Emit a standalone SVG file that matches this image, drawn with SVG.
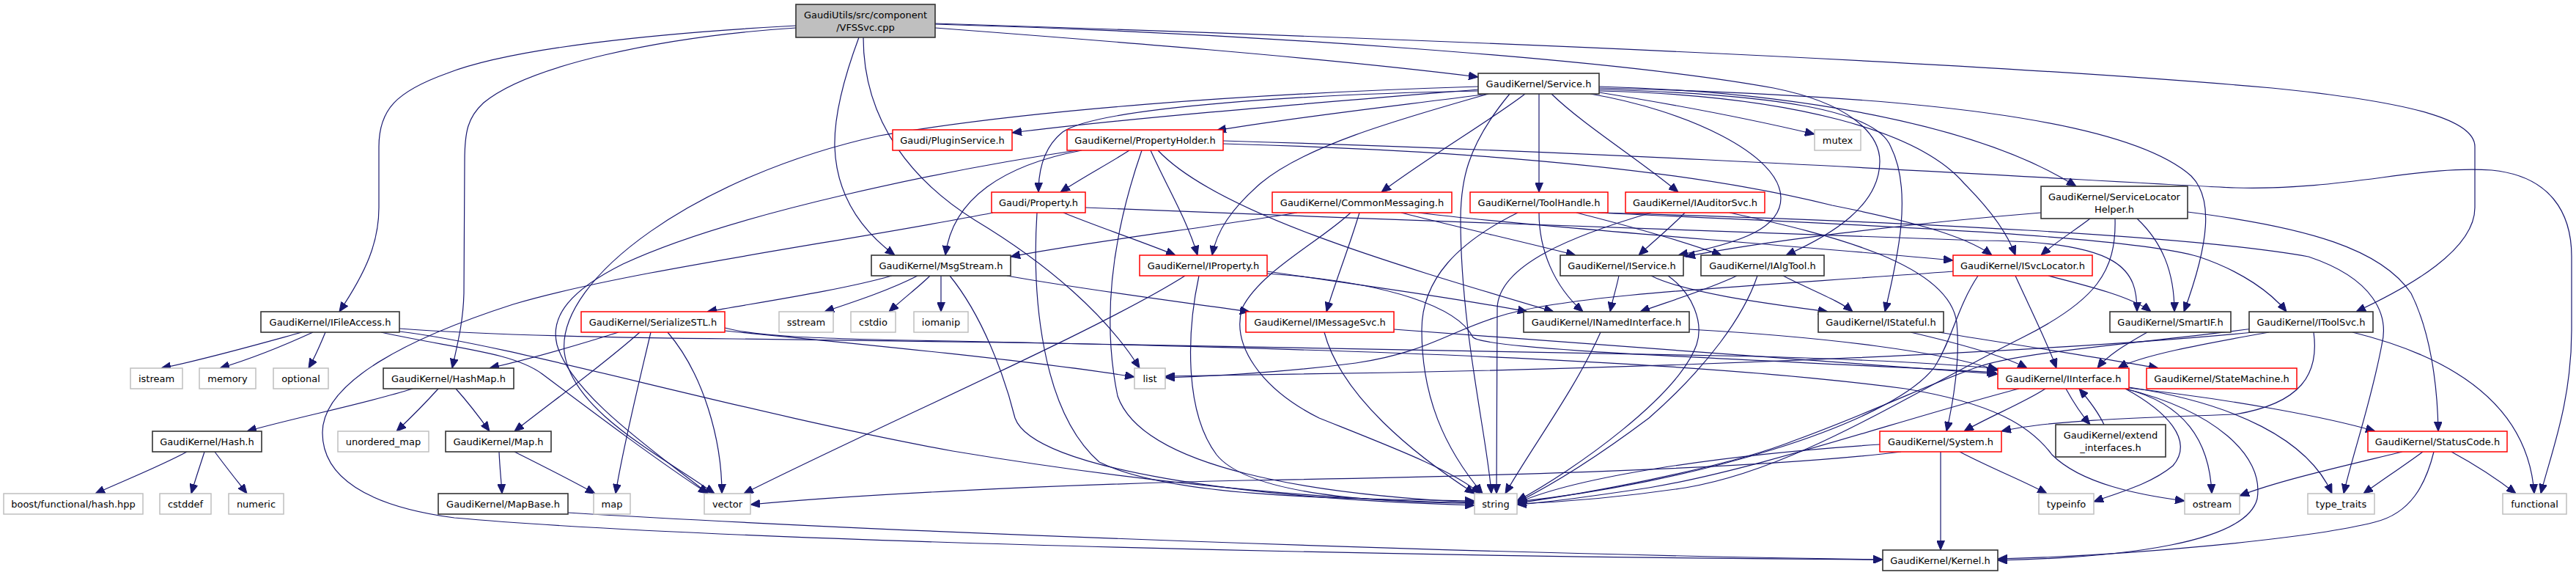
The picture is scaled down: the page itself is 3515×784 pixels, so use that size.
<svg xmlns="http://www.w3.org/2000/svg" width="3515" height="784" viewBox="0 0 3515 784">
<defs>
<style>
#edges path{fill:none;stroke:#191970;stroke-width:1.2;marker-end:url(#ah)}
.nb rect{fill:#fff;stroke:#333;stroke-width:1.6}
.nr rect{fill:#fff;stroke:#ff0000;stroke-width:1.5}
.ng rect{fill:#fff;stroke:#bfbfbf;stroke-width:1.5}
.root rect{fill:#bfbfbf;stroke:#333;stroke-width:1.6}
text{font-family:"DejaVu Sans","Liberation Sans",sans-serif;font-size:13px;text-anchor:middle;fill:#000}
</style>
<marker id="ah" viewBox="0 0 13 11" refX="13" refY="5.5" markerWidth="13" markerHeight="11" markerUnits="userSpaceOnUse" orient="auto"><path d="M0,0 L13,5.5 L0,11 z" fill="#191970" stroke="#191970" stroke-width="1"/></marker>
</defs>
<rect x="0" y="0" width="3515" height="784" fill="#fff"/>
<g id="edges">
<path d="M1086,35 C900,45 700,65 610,100 C540,125 517,150 517,200 L517,283 C517,330 500,370 463,425"/>
<path d="M1086,38 C900,50 720,90 660,140 C638,160 634,180 634,220 L633,400 C632,440 624,470 617,502"/>
<path d="M1172,51 C1150,110 1138,160 1139,200 C1141,260 1170,310 1221,348"/>
<path d="M1178,51 C1178,170 1250,250 1330,300 C1430,360 1510,430 1555,502"/>
<path d="M1276,38 C1500,55 1800,78 2017,105"/>
<path d="M1276,33 C1700,45 2200,80 2420,120 C2520,140 2565,180 2565,220 C2565,280 2500,320 2437,348"/>
<path d="M1276,32 C2000,55 2700,85 3100,120 C3300,140 3377,165 3377,200 L3377,283 C3377,340 3290,390 3215,425"/>
<path d="M2017,122 C1800,140 1550,160 1381,181"/>
<path d="M2031,128 C1900,145 1750,162 1660,178"/>
<path d="M2017,124 C1800,128 1500,145 1450,180 C1425,200 1417,230 1417,262"/>
<path d="M2031,128 C1900,165 1780,200 1720,250 C1680,285 1660,315 1654,348"/>
<path d="M2081,128 C2040,160 1940,220 1885,262"/>
<path d="M2100,128 L2100,262"/>
<path d="M2117,128 C2160,170 2240,220 2290,262"/>
<path d="M2182,126 C2300,145 2400,165 2476,183"/>
<path d="M2182,118 C2450,125 2700,170 2833,254"/>
<path d="M2170,128 C2300,150 2430,210 2430,270 C2430,310 2380,330 2290,348"/>
<path d="M2182,124 C2450,130 2620,180 2680,250 C2720,290 2740,320 2750,348"/>
<path d="M2182,120 C2600,130 2900,160 2990,240 C3020,270 3015,330 2980,425"/>
<path d="M2182,122 C2420,128 2560,150 2580,200 C2610,260 2590,350 2572,425"/>
<path d="M2060,128 C2000,200 1993,250 1993,300 C1993,450 2030,600 2035,673"/>
<path d="M2017,118 C1700,128 1400,150 1200,185 C950,240 760,380 770,480 C780,560 900,620 975,673"/>
<path d="M1476,205 C1370,225 1300,270 1290,348"/>
<path d="M1541,205 C1510,225 1480,240 1447,262"/>
<path d="M1570,205 C1590,250 1620,300 1634,348"/>
<path d="M1580,205 C1660,290 1900,360 2120,425"/>
<path d="M1558,205 C1525,300 1500,420 1525,540 C1560,640 1800,675 2012,685"/>
<path d="M1476,204 C1300,230 1000,290 850,360 C780,395 750,430 760,470 C780,540 900,620 966,673"/>
<path d="M1669,192 C2300,210 2900,250 3050,256 C3200,260 3300,225 3400,232 C3480,240 3509,290 3509,350 L3509,450 C3509,550 3480,620 3467,673"/>
<path d="M1669,196 C2000,205 2300,230 2500,280 C2600,300 2680,320 2718,348"/>
<path d="M1451,290 C1500,310 1560,330 1604,348"/>
<path d="M1415,290 C1408,400 1420,560 1500,630 C1600,680 1850,680 2012,683"/>
<path d="M1355,290 C1150,330 850,370 700,415 C560,460 440,520 440,590 C440,650 500,690 620,706 C1000,740 2000,760 2569,763"/>
<path d="M1481,283 C1900,300 2400,318 2700,328 C2900,328 2916,370 2916,425"/>
<path d="M1217,376 C1150,395 1050,410 965,425"/>
<path d="M1252,376 C1215,395 1170,410 1125,425"/>
<path d="M1269,376 C1255,390 1235,405 1213,425"/>
<path d="M1284,376 L1284,425"/>
<path d="M1296,376 C1340,430 1370,510 1385,570 C1410,640 1700,680 2012,689"/>
<path d="M1374,376 C1480,395 1600,410 1705,425"/>
<path d="M1729,370 C1850,388 1980,405 2084,425"/>
<path d="M1729,373 C1900,385 1990,420 2010,460 C2030,478 2400,490 2724,508"/>
<path d="M1636,376 C1620,450 1615,560 1660,620 C1700,670 1850,685 2012,686"/>
<path d="M1617,376 C1500,450 1200,580 1015,673"/>
<path d="M1770,290 C1650,310 1480,330 1379,350"/>
<path d="M1855,290 C1840,340 1820,390 1810,425"/>
<path d="M1912,290 C1990,310 2080,330 2150,348"/>
<path d="M1935,290 C2100,310 2450,335 2665,355"/>
<path d="M1843,290 C1800,330 1720,370 1695,420 C1680,470 1720,530 1800,570 C1900,610 1980,640 2020,673"/>
<path d="M2151,290 C2230,310 2300,330 2349,348"/>
<path d="M2100,290 C2100,340 2120,390 2160,425"/>
<path d="M2180,290 C2500,305 2900,320 3000,350 C3060,370 3100,400 3120,425"/>
<path d="M2071,290 C1990,330 1940,380 1940,450 C1940,540 1970,610 2023,673"/>
<path d="M2185,290 C2600,302 3000,322 3150,350 C3240,380 3260,430 3250,470 C3235,550 3210,620 3198,673"/>
<path d="M2299,290 C2280,310 2255,330 2236,348"/>
<path d="M2360,290 C2500,320 2660,360 2670,440 C2675,490 2665,550 2656,588"/>
<path d="M2253,290 C2150,320 2045,360 2043,420 L2042,673"/>
<path d="M2785,290 C2600,305 2400,330 2300,350"/>
<path d="M2852,298 C2830,315 2805,330 2785,348"/>
<path d="M2916,298 C2950,330 2967,370 2967,425"/>
<path d="M2985,289 C3150,310 3250,340 3290,400 C3315,450 3326,520 3327,588"/>
<path d="M2886,298 C2888,370 2860,410 2760,460 C2600,540 2450,640 2300,665 C2200,680 2120,685 2070,687"/>
<path d="M2209,376 C2205,395 2200,410 2197,425"/>
<path d="M2253,376 C2300,400 2420,415 2494,425"/>
<path d="M2276,376 C2310,400 2325,440 2315,470 C2290,540 2150,640 2070,683"/>
<path d="M2370,376 C2330,395 2280,410 2238,425"/>
<path d="M2433,376 C2470,395 2510,410 2528,425"/>
<path d="M2398,376 C2380,430 2330,500 2250,570 C2170,630 2110,665 2070,685"/>
<path d="M2750,376 C2770,420 2795,470 2806,502"/>
<path d="M2795,376 C2850,390 2910,405 2935,425"/>
<path d="M2699,376 C2670,420 2665,460 2640,500 C2580,580 2300,660 2070,684"/>
<path d="M2665,370 C2400,390 2150,400 2050,430 C1980,450 1950,480 1850,495 C1750,508 1650,513 1590,515"/>
<path d="M2930,453 C2900,470 2875,485 2862,502"/>
<path d="M3096,453 C3000,470 2920,485 2890,502"/>
<path d="M3157,453 C3165,510 3140,550 3050,565 C2900,570 2790,574 2731,588"/>
<path d="M3210,453 C3360,490 3450,560 3458,673"/>
<path d="M3075,453 C2800,480 2300,500 1900,508 C1750,511 1650,513 1590,513"/>
<path d="M3075,448 C2900,470 2760,480 2700,500 C2640,520 2560,560 2450,600 C2350,640 2150,675 2070,686"/>
<path d="M412,453 C350,470 280,490 220,502"/>
<path d="M427,453 C390,470 340,490 300,502"/>
<path d="M444,453 C437,470 428,490 421,502"/>
<path d="M545,448 C650,456 800,460 1000,462 C1500,468 2100,478 2400,486 C2600,492 2680,498 2726,503"/>
<path d="M545,452 C700,470 1000,560 1300,615 C1600,665 1850,683 2012,686"/>
<path d="M520,453 C620,475 700,480 740,510 C820,570 900,630 966,673"/>
<path d="M563,530 C500,550 400,570 337,588"/>
<path d="M598,530 C580,550 560,570 541,588"/>
<path d="M622,530 C640,550 655,570 668,588"/>
<path d="M255,616 C220,635 170,655 130,673"/>
<path d="M279,616 C273,635 266,655 261,673"/>
<path d="M293,616 C307,635 323,655 337,673"/>
<path d="M844,453 C790,470 720,490 668,502"/>
<path d="M873,453 C820,500 750,550 702,588"/>
<path d="M888,453 C870,530 850,610 840,673"/>
<path d="M911,453 C960,510 985,600 985,673"/>
<path d="M989,451 C1100,462 1400,490 1548,514"/>
<path d="M989,447 C1030,458 1100,462 1300,465 C1800,475 2300,490 2600,530 C2720,550 2770,580 2800,620 C2840,660 2920,675 2981,683"/>
<path d="M681,616 C682,640 684,655 685,673"/>
<path d="M702,616 C740,635 780,655 812,673"/>
<path d="M775,699 C1200,725 2000,755 2569,763"/>
<path d="M1902,449 C2100,462 2500,495 2726,510"/>
<path d="M1807,453 C1830,540 1930,620 2012,673"/>
<path d="M2305,449 C2500,460 2650,480 2726,505"/>
<path d="M2184,453 C2150,530 2090,610 2054,673"/>
<path d="M2607,453 C2680,470 2740,488 2766,502"/>
<path d="M2645,453 C2750,470 2880,490 2945,502"/>
<path d="M2791,530 C2760,550 2710,570 2680,588"/>
<path d="M2819,530 C2830,550 2840,565 2852,579"/>
<path d="M2905,529 C3050,545 3180,570 3241,588"/>
<path d="M2900,530 C2980,550 3015,600 3018,673"/>
<path d="M2905,528 C3050,550 3150,600 3182,673"/>
<path d="M2900,530 C2955,560 2995,600 2965,635 C2935,660 2890,672 2857,684"/>
<path d="M2900,530 C3020,560 3090,620 3080,680 C3065,740 2900,760 2726,764"/>
<path d="M2755,530 C2600,570 2400,640 2250,665 C2150,680 2100,686 2070,688"/>
<path d="M2871,579 C2862,560 2850,545 2837,530"/>
<path d="M2648,616 L2648,750"/>
<path d="M2674,616 C2720,640 2760,655 2793,673"/>
<path d="M2565,606 C2350,620 2150,650 2070,686"/>
<path d="M2594,616 C2400,640 2000,650 1700,655 C1400,662 1150,676 1024,688"/>
<path d="M3278,616 C3200,635 3110,655 3056,676"/>
<path d="M3306,616 C3280,635 3250,655 3225,673"/>
<path d="M3345,616 C3380,635 3410,655 3433,673"/>
<path d="M3321,616 C3310,660 3290,700 3240,712 C3150,735 2900,758 2726,762"/>
</g>
<g id="n_root" class="root"><rect x="1086" y="6" width="190" height="45"/><text x="1181" y="25">GaudiUtils/src/component</text><text x="1181" y="41.5">/VFSSvc.cpp</text></g>
<g id="n_service" class="nb"><rect x="2017" y="100" width="165" height="28"/><text x="2099.5" y="119">GaudiKernel/Service.h</text></g>
<g id="n_pluginsvc" class="nr"><rect x="1218" y="177" width="163" height="28"/><text x="1299.5" y="196">Gaudi/PluginService.h</text></g>
<g id="n_propholder" class="nr"><rect x="1456" y="177" width="213" height="28"/><text x="1562.5" y="196">GaudiKernel/PropertyHolder.h</text></g>
<g id="n_mutex" class="ng"><rect x="2476" y="177" width="63" height="28"/><text x="2507.5" y="196">mutex</text></g>
<g id="n_property" class="nr"><rect x="1353" y="262" width="128" height="28"/><text x="1417" y="281">Gaudi/Property.h</text></g>
<g id="n_commonmsg" class="nr"><rect x="1736" y="262" width="245" height="28"/><text x="1858.5" y="281">GaudiKernel/CommonMessaging.h</text></g>
<g id="n_toolhandle" class="nr"><rect x="2006" y="262" width="188" height="28"/><text x="2100" y="281">GaudiKernel/ToolHandle.h</text></g>
<g id="n_iauditorsvc" class="nr"><rect x="2218" y="262" width="190" height="28"/><text x="2313" y="281">GaudiKernel/IAuditorSvc.h</text></g>
<g id="n_slh" class="nb"><rect x="2785" y="254" width="200" height="44"/><text x="2885" y="273">GaudiKernel/ServiceLocator</text><text x="2885" y="289.5">Helper.h</text></g>
<g id="n_msgstream" class="nb"><rect x="1189" y="348" width="190" height="28"/><text x="1284" y="367">GaudiKernel/MsgStream.h</text></g>
<g id="n_iproperty" class="nr"><rect x="1555" y="348" width="174" height="28"/><text x="1642" y="367">GaudiKernel/IProperty.h</text></g>
<g id="n_iservice" class="nb"><rect x="2129" y="348" width="168" height="28"/><text x="2213" y="367">GaudiKernel/IService.h</text></g>
<g id="n_ialgtool" class="nb"><rect x="2321" y="348" width="168" height="28"/><text x="2405" y="367">GaudiKernel/IAlgTool.h</text></g>
<g id="n_isvclocator" class="nr"><rect x="2665" y="348" width="190" height="28"/><text x="2760" y="367">GaudiKernel/ISvcLocator.h</text></g>
<g id="n_ifileaccess" class="nb"><rect x="356" y="425" width="189" height="28"/><text x="450.5" y="444">GaudiKernel/IFileAccess.h</text></g>
<g id="n_serializestl" class="nr"><rect x="793" y="425" width="196" height="28"/><text x="891" y="444">GaudiKernel/SerializeSTL.h</text></g>
<g id="n_sstream" class="ng"><rect x="1063" y="425" width="74" height="28"/><text x="1100" y="444">sstream</text></g>
<g id="n_cstdio" class="ng"><rect x="1161" y="425" width="61" height="28"/><text x="1191.5" y="444">cstdio</text></g>
<g id="n_iomanip" class="ng"><rect x="1247" y="425" width="74" height="28"/><text x="1284" y="444">iomanip</text></g>
<g id="n_imessagesvc" class="nr"><rect x="1700" y="425" width="202" height="28"/><text x="1801" y="444">GaudiKernel/IMessageSvc.h</text></g>
<g id="n_inamedinterface" class="nb"><rect x="2079" y="425" width="226" height="28"/><text x="2192" y="444">GaudiKernel/INamedInterface.h</text></g>
<g id="n_istateful" class="nb"><rect x="2481" y="425" width="171" height="28"/><text x="2566.5" y="444">GaudiKernel/IStateful.h</text></g>
<g id="n_smartif" class="nb"><rect x="2879" y="425" width="165" height="28"/><text x="2961.5" y="444">GaudiKernel/SmartIF.h</text></g>
<g id="n_itoolsvc" class="nb"><rect x="3069" y="425" width="169" height="28"/><text x="3153.5" y="444">GaudiKernel/IToolSvc.h</text></g>
<g id="n_istream" class="ng"><rect x="178" y="502" width="71" height="28"/><text x="213.5" y="521">istream</text></g>
<g id="n_memory" class="ng"><rect x="272" y="502" width="77" height="28"/><text x="310.5" y="521">memory</text></g>
<g id="n_optional" class="ng"><rect x="373" y="502" width="75" height="28"/><text x="410.5" y="521">optional</text></g>
<g id="n_hashmap" class="nb"><rect x="523" y="502" width="178" height="28"/><text x="612" y="521">GaudiKernel/HashMap.h</text></g>
<g id="n_list" class="ng"><rect x="1548" y="502" width="42" height="28"/><text x="1569" y="521">list</text></g>
<g id="n_iinterface" class="nr"><rect x="2726" y="502" width="179" height="28"/><text x="2815.5" y="521">GaudiKernel/IInterface.h</text></g>
<g id="n_statemachine" class="nr"><rect x="2929" y="502" width="205" height="28"/><text x="3031.5" y="521">GaudiKernel/StateMachine.h</text></g>
<g id="n_hash" class="nb"><rect x="208" y="588" width="149" height="28"/><text x="282.5" y="607">GaudiKernel/Hash.h</text></g>
<g id="n_unordered_map" class="ng"><rect x="461" y="588" width="124" height="28"/><text x="523" y="607">unordered_map</text></g>
<g id="n_map_h" class="nb"><rect x="608" y="588" width="144" height="28"/><text x="680" y="607">GaudiKernel/Map.h</text></g>
<g id="n_system" class="nr"><rect x="2565" y="588" width="166" height="28"/><text x="2648" y="607">GaudiKernel/System.h</text></g>
<g id="n_extend" class="nb"><rect x="2805" y="579" width="150" height="44"/><text x="2880" y="598">GaudiKernel/extend</text><text x="2880" y="614.5">_interfaces.h</text></g>
<g id="n_statuscode" class="nr"><rect x="3231" y="588" width="190" height="28"/><text x="3326" y="607">GaudiKernel/StatusCode.h</text></g>
<g id="n_boost" class="ng"><rect x="5" y="673" width="190" height="28"/><text x="100" y="692">boost/functional/hash.hpp</text></g>
<g id="n_cstddef" class="ng"><rect x="218" y="673" width="70" height="28"/><text x="253" y="692">cstddef</text></g>
<g id="n_numeric" class="ng"><rect x="312" y="673" width="75" height="28"/><text x="349.5" y="692">numeric</text></g>
<g id="n_mapbase" class="nb"><rect x="598" y="673" width="177" height="28"/><text x="686.5" y="692">GaudiKernel/MapBase.h</text></g>
<g id="n_map" class="ng"><rect x="810" y="673" width="50" height="28"/><text x="835" y="692">map</text></g>
<g id="n_vector" class="ng"><rect x="961" y="673" width="63" height="28"/><text x="992.5" y="692">vector</text></g>
<g id="n_string" class="ng"><rect x="2012" y="673" width="58" height="28"/><text x="2041" y="692">string</text></g>
<g id="n_typeinfo" class="ng"><rect x="2782" y="673" width="75" height="28"/><text x="2819.5" y="692">typeinfo</text></g>
<g id="n_ostream" class="ng"><rect x="2981" y="673" width="75" height="28"/><text x="3018.5" y="692">ostream</text></g>
<g id="n_type_traits" class="ng"><rect x="3149" y="673" width="91" height="28"/><text x="3194.5" y="692">type_traits</text></g>
<g id="n_functional" class="ng"><rect x="3415" y="673" width="87" height="28"/><text x="3458.5" y="692">functional</text></g>
<g id="n_kernel" class="nb"><rect x="2569" y="750" width="157" height="28"/><text x="2647.5" y="769">GaudiKernel/Kernel.h</text></g>
</svg>
